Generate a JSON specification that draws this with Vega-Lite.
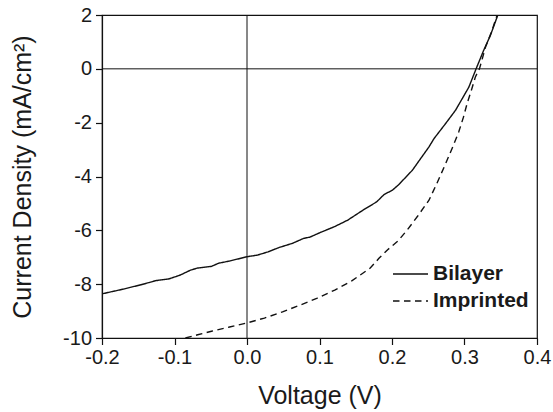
{
  "$schema": "https://vega.github.io/schema/vega-lite/v6.json",
  "width": 435,
  "height": 323,
  "autosize": {"type": "none"},
  "padding": {"left": 102, "top": 15, "right": 16, "bottom": 74},
  "background": "white",
  "config": {
    "font": "Liberation Sans",
    "view": {"stroke": "#111", "strokeWidth": 1.2},
    "axis": {
      "domainColor": "#111",
      "domainWidth": 1.2,
      "tickColor": "#111",
      "tickWidth": 1.2,
      "labelFont": "Liberation Sans",
      "labelFontSize": 20,
      "labelColor": "#1a1a1a",
      "titleFont": "Liberation Sans",
      "titleFontWeight": "normal",
      "titleColor": "#1a1a1a",
      "grid": false
    }
  },
  "datasets": {
    "jv": [
      {"series": "Bilayer", "voltage": -0.200, "current": -8.36},
      {"series": "Bilayer", "voltage": -0.185, "current": -8.27},
      {"series": "Bilayer", "voltage": -0.170, "current": -8.18},
      {"series": "Bilayer", "voltage": -0.155, "current": -8.08},
      {"series": "Bilayer", "voltage": -0.146, "current": -8.02},
      {"series": "Bilayer", "voltage": -0.135, "current": -7.94},
      {"series": "Bilayer", "voltage": -0.126, "current": -7.87},
      {"series": "Bilayer", "voltage": -0.107, "current": -7.80},
      {"series": "Bilayer", "voltage": -0.092, "current": -7.66},
      {"series": "Bilayer", "voltage": -0.078, "current": -7.48},
      {"series": "Bilayer", "voltage": -0.068, "current": -7.40},
      {"series": "Bilayer", "voltage": -0.049, "current": -7.34},
      {"series": "Bilayer", "voltage": -0.039, "current": -7.22},
      {"series": "Bilayer", "voltage": -0.024, "current": -7.14},
      {"series": "Bilayer", "voltage": 0.000, "current": -6.98},
      {"series": "Bilayer", "voltage": 0.0145, "current": -6.92},
      {"series": "Bilayer", "voltage": 0.029, "current": -6.80},
      {"series": "Bilayer", "voltage": 0.044, "current": -6.64},
      {"series": "Bilayer", "voltage": 0.063, "current": -6.48},
      {"series": "Bilayer", "voltage": 0.078, "current": -6.30},
      {"series": "Bilayer", "voltage": 0.087, "current": -6.25},
      {"series": "Bilayer", "voltage": 0.102, "current": -6.07},
      {"series": "Bilayer", "voltage": 0.121, "current": -5.86},
      {"series": "Bilayer", "voltage": 0.139, "current": -5.62},
      {"series": "Bilayer", "voltage": 0.160, "current": -5.25},
      {"series": "Bilayer", "voltage": 0.179, "current": -4.94},
      {"series": "Bilayer", "voltage": 0.189, "current": -4.67},
      {"series": "Bilayer", "voltage": 0.2005, "current": -4.51},
      {"series": "Bilayer", "voltage": 0.209, "current": -4.31},
      {"series": "Bilayer", "voltage": 0.228, "current": -3.77},
      {"series": "Bilayer", "voltage": 0.251, "current": -2.90},
      {"series": "Bilayer", "voltage": 0.258, "current": -2.59},
      {"series": "Bilayer", "voltage": 0.274, "current": -2.03},
      {"series": "Bilayer", "voltage": 0.2876, "current": -1.54},
      {"series": "Bilayer", "voltage": 0.306, "current": -0.68},
      {"series": "Bilayer", "voltage": 0.316, "current": 0.00},
      {"series": "Bilayer", "voltage": 0.3265, "current": 0.69},
      {"series": "Bilayer", "voltage": 0.3357, "current": 1.24},
      {"series": "Bilayer", "voltage": 0.346, "current": 2.00},
      {"series": "Imprinted", "voltage": -0.085, "current": -10.00},
      {"series": "Imprinted", "voltage": -0.068, "current": -9.88},
      {"series": "Imprinted", "voltage": -0.049, "current": -9.75},
      {"series": "Imprinted", "voltage": -0.024, "current": -9.59},
      {"series": "Imprinted", "voltage": 0.000, "current": -9.44},
      {"series": "Imprinted", "voltage": 0.024, "current": -9.26},
      {"series": "Imprinted", "voltage": 0.049, "current": -9.03},
      {"series": "Imprinted", "voltage": 0.073, "current": -8.78},
      {"series": "Imprinted", "voltage": 0.097, "current": -8.52},
      {"series": "Imprinted", "voltage": 0.121, "current": -8.22},
      {"series": "Imprinted", "voltage": 0.145, "current": -7.87},
      {"series": "Imprinted", "voltage": 0.170, "current": -7.40},
      {"series": "Imprinted", "voltage": 0.182, "current": -7.04},
      {"series": "Imprinted", "voltage": 0.194, "current": -6.72},
      {"series": "Imprinted", "voltage": 0.208, "current": -6.40},
      {"series": "Imprinted", "voltage": 0.221, "current": -5.99},
      {"series": "Imprinted", "voltage": 0.236, "current": -5.45},
      {"series": "Imprinted", "voltage": 0.251, "current": -4.88},
      {"series": "Imprinted", "voltage": 0.262, "current": -4.25},
      {"series": "Imprinted", "voltage": 0.274, "current": -3.52},
      {"series": "Imprinted", "voltage": 0.283, "current": -2.95},
      {"series": "Imprinted", "voltage": 0.292, "current": -2.35},
      {"series": "Imprinted", "voltage": 0.2985, "current": -1.80},
      {"series": "Imprinted", "voltage": 0.3036, "current": -1.29},
      {"series": "Imprinted", "voltage": 0.310, "current": -0.75},
      {"series": "Imprinted", "voltage": 0.315, "current": -0.30},
      {"series": "Imprinted", "voltage": 0.3206, "current": 0.00},
      {"series": "Imprinted", "voltage": 0.325, "current": 0.42},
      {"series": "Imprinted", "voltage": 0.329, "current": 0.81},
      {"series": "Imprinted", "voltage": 0.334, "current": 1.15},
      {"series": "Imprinted", "voltage": 0.338, "current": 1.43},
      {"series": "Imprinted", "voltage": 0.345, "current": 2.00}
    ],
    "origin": [{"v": 0, "j": 0}]
  },
  "layer": [
    {
      "data": {"name": "origin"},
      "mark": {"type": "rule", "color": "#111", "strokeWidth": 1},
      "encoding": {"x": {"field": "v", "type": "quantitative"}}
    },
    {
      "data": {"name": "origin"},
      "mark": {"type": "rule", "color": "#111", "strokeWidth": 1},
      "encoding": {"y": {"field": "j", "type": "quantitative"}}
    },
    {
      "data": {"name": "jv"},
      "mark": {"type": "line", "color": "#111", "strokeWidth": 1.4, "clip": true},
      "encoding": {
        "x": {
          "field": "voltage",
          "type": "quantitative",
          "title": "Voltage (V)",
          "scale": {"domain": [-0.2, 0.4], "nice": false, "zero": false},
          "axis": {
            "values": [-0.2, -0.15, -0.1, -0.05, 0, 0.05, 0.1, 0.15, 0.2, 0.25, 0.3, 0.35, 0.4],
            "labelExpr": "abs(round(datum.value * 10) - datum.value * 10) > 0.01 ? '' : replace(format(datum.value, '.1f'), '\u2212', '-')",
            "tickSize": {"condition": {"test": "abs(round(datum.value * 10) - datum.value * 10) > 0.01", "value": 3.5}, "value": 6.5},
            "labelPadding": 3,
            "titleFontSize": 25,
            "titlePadding": 16,
            "labelFlush": false
          }
        },
        "y": {
          "field": "current",
          "type": "quantitative",
          "title": "Current Density (mA/cm²)",
          "scale": {"domain": [-10, 2], "nice": false, "zero": false},
          "axis": {
            "values": [-10, -9, -8, -7, -6, -5, -4, -3, -2, -1, 0, 1, 2],
            "labelExpr": "abs(datum.value) % 2 == 1 ? '' : toString(datum.value)",
            "tickSize": {"condition": {"test": "abs(datum.value) % 2 == 1", "value": 3.5}, "value": 6.5},
            "labelPadding": 4,
            "titleFontSize": 25,
            "titlePadding": 27,
            "labelFlush": false
          }
        },
        "strokeDash": {
          "field": "series",
          "type": "nominal",
          "title": null,
          "scale": {"domain": ["Bilayer", "Imprinted"], "range": [[1, 0], [6.5, 4.5]]},
          "legend": {
            "orient": "none",
            "legendX": 290,
            "legendY": 246,
            "padding": 0,
            "symbolType": "stroke",
            "symbolSize": 1225,
            "symbolStrokeColor": "#111",
            "symbolStrokeWidth": 1.5,
            "clipHeight": 26,
            "rowPadding": 1,
            "labelOffset": 4,
            "labelFont": "Liberation Sans",
            "labelFontSize": 21,
            "labelFontWeight": "bold",
            "labelColor": "#1a1a1a"
          }
        }
      }
    }
  ]
}
